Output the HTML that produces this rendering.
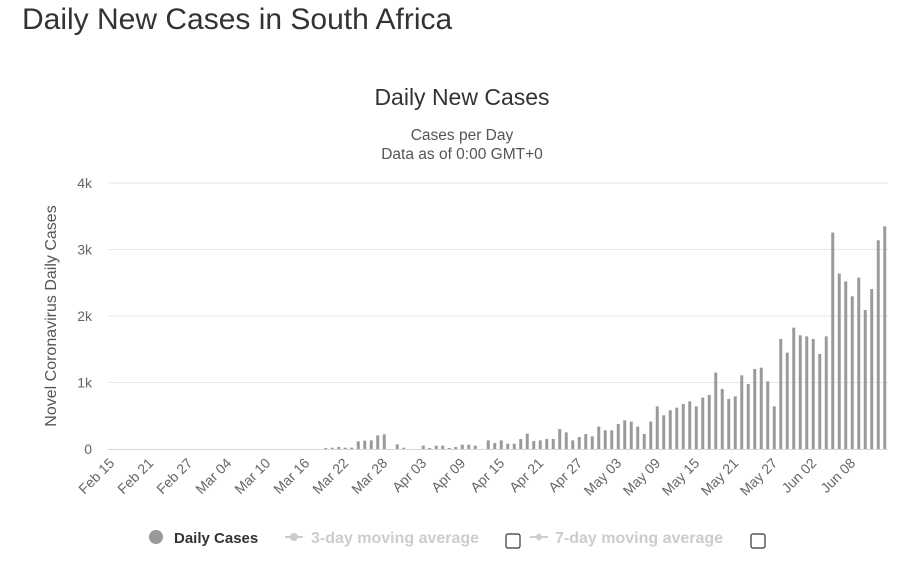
<!DOCTYPE html>
<html><head><meta charset="utf-8"><style>
body{margin:0;background:#fff;font-family:"Liberation Sans",sans-serif;}
</style></head><body>
<div style="position:relative;width:906px;height:568px;overflow:hidden">
<div style="position:absolute;left:22px;top:3px;font-size:30px;color:#333">Daily New Cases in South Africa</div>
<svg id="chart" width="906" height="568" style="position:absolute;left:0;top:0" font-family="Liberation Sans, sans-serif"></svg>
</div>
<script>
const startDate = "Feb 15";
const values = [0,0,0,0,0,0,0,0,0,0, 0,0,0,0,0,0,0,0,0,0, 0,0,0,0,0,0,0,0,0,0, 0,0,0,15,20,30,20,20,115,125, 130,205,220,0,70,20,0,0,50,15, 50,50,15,30,65,65,50,0,130,90, 130,80,80,150,230,120,130,150,150,300, 250,130,180,
225,190,337,281,281,376,431,412,337,225,412,642,507,582,622,677,717,642,773,812,1149,902,752,792,1108,977,1203,1223,1018,642,1654,1449,1825,1710,1694,1654,1428,1694,3254,2637,2521,2296,2577,2090,2406,3138,3349];
const xLabels = ["Feb 15","Feb 21","Feb 27","Mar 04","Mar 10","Mar 16","Mar 22","Mar 28","Apr 03","Apr 09","Apr 15","Apr 21","Apr 27","May 03","May 09","May 15","May 21","May 27","Jun 02","Jun 08"];
const yTicks = [0,1000,2000,3000,4000];
const yTickLabels = ["0","1k","2k","3k","4k"];
const NS="http://www.w3.org/2000/svg";
const svg=document.getElementById('chart');
const L=108,R=888,T=183,B=449,N=120,step=(R-L)/N;
const x=i=>L+(i+0.5)*step;
const y=v=>B-(v/4000)*(B-T);
function mk(t,a,txt){const e=document.createElementNS(NS,t);for(const k in a)e.setAttribute(k,a[k]);if(txt!==undefined)e.textContent=txt;svg.appendChild(e);return e;}
let e;
e=mk('text',{x:462,y:105,'text-anchor':'middle','font-size':23,fill:'#333'},'Daily New Cases');


e=mk('text',{x:462,y:140,'text-anchor':'middle','font-size':15.5,fill:'#555'},'Cases per Day');


e=mk('text',{x:462,y:159,'text-anchor':'middle','font-size':15.5,fill:'#555'},'Data as of 0:00 GMT+0');


yTicks.forEach((v,k)=>{
 if(v>0){e=mk('line',{x1:L,x2:R,y1:y(v),y2:y(v),stroke:'#e6e6e6','stroke-width':1});
 
 }
 e=mk('text',{x:92,y:y(v)+5,'text-anchor':'end','font-size':14,fill:'#666'},yTickLabels[k]);
 
 
});
e=mk('text',{x:0,y:0,'text-anchor':'middle','font-size':16,fill:'#555',transform:'translate(56,316) rotate(-90)'},'Novel Coronavirus Daily Cases');


values.forEach((v,i)=>{
 if(v<=0)return;
 e=mk('rect',{x:x(i)-1.5,y:y(v),width:3,height:B-y(v),fill:'#9a9a9a'});
 
 
});
e=mk('line',{x1:L,x2:R,y1:B+0.5,y2:B+0.5,stroke:'#ccd6eb','stroke-width':1});


xLabels.forEach((lab,k)=>{
 const xx=x(k*6)+4;
 e=mk('text',{x:xx,y:464,'text-anchor':'end','font-size':14,fill:'#666',transform:`rotate(-45 ${xx} 464)`},lab);
 
 
});
// legend
e=mk('circle',{cx:156,cy:537,r:7,fill:'#999'});


e=mk('text',{x:174,y:543,'font-size':15,'font-weight':'bold',fill:'#333'},'Daily Cases');


e=mk('line',{x1:285,x2:303,y1:537,y2:537,stroke:'#ccc','stroke-width':2});


e=mk('circle',{cx:294,cy:537,r:4,fill:'#ccc'});


e=mk('text',{x:311,y:543,'font-size':16,'font-weight':'bold',fill:'#ccc'},'3-day moving average');


e=mk('rect',{x:506,y:534,width:14,height:14,rx:2,fill:'#fff',stroke:'#333','stroke-width':1.2});


e=mk('line',{x1:530,x2:548,y1:537,y2:537,stroke:'#ccc','stroke-width':2});


e=mk('path',{d:'M539 533 L543 537 L539 541 L535 537 Z',fill:'#ccc'});


e=mk('text',{x:555,y:543,'font-size':16,'font-weight':'bold',fill:'#ccc'},'7-day moving average');


e=mk('rect',{x:751,y:534,width:14,height:14,rx:2,fill:'#fff',stroke:'#333','stroke-width':1.2});


</script>
</body></html>
